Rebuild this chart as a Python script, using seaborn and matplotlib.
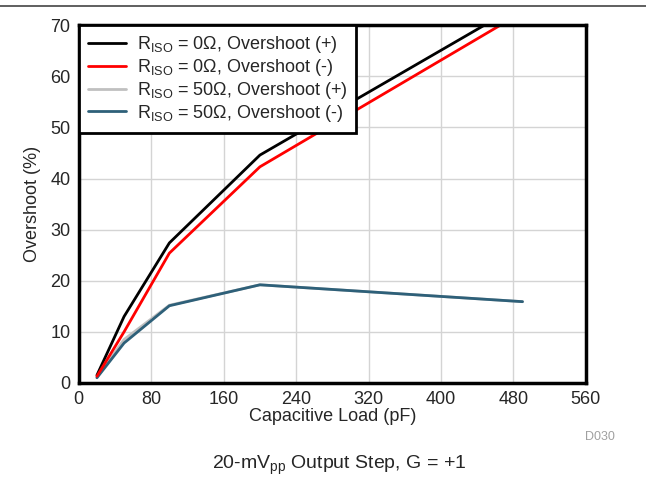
import pandas as pd
import seaborn as sns
import matplotlib.pyplot as plt
from matplotlib.lines import Line2D

# data
cap_0 = [20, 50, 100, 200, 470]
over_pos_0 = [1.5, 13.0, 27.4, 44.6, 72.3]
over_neg_0 = [1.3, 10.0, 25.4, 42.3, 70.5]

cap_50 = [20, 50, 100, 200, 490]
over_pos_50 = [1.1, 8.5, 15.2, 19.2, 15.9]
over_neg_50 = [1.0, 7.8, 15.1, 19.2, 15.9]

labels = ["R$_{\\mathrm{ISO}}$ = 0\u03a9, Overshoot (+)",
          "R$_{\\mathrm{ISO}}$ = 0\u03a9, Overshoot (-)",
          "R$_{\\mathrm{ISO}}$ = 50\u03a9, Overshoot (+)",
          "R$_{\\mathrm{ISO}}$ = 50\u03a9, Overshoot (-)"]
colors = ["#000000", "#ff0000", "#c0c0c0", "#2e6079"]

x_ticks = [0, 80, 160, 240, 320, 400, 480, 560]
y_ticks = [0, 10, 20, 30, 40, 50, 60, 70]

sns.set_style("white")
plt.rcParams["font.family"] = ["Liberation Sans", "DejaVu Sans"]
plt.rcParams["mathtext.fontset"] = "custom"
plt.rcParams["mathtext.rm"] = "Liberation Sans"
plt.rcParams["mathtext.it"] = "Liberation Sans:italic"
plt.rcParams["mathtext.bf"] = "Liberation Sans:bold"

fig = plt.figure(figsize=(6.46, 4.78), dpi=100)
ax = fig.add_axes([0.122, 0.199, 0.785, 0.748])

series = [(cap_50, over_pos_50), (cap_50, over_neg_50),
          (cap_0, over_pos_0), (cap_0, over_neg_0)]
order = [2, 3, 0, 1]
for (xs, ys), i in zip(series, order):
    df = pd.DataFrame({"cap": xs, "over": ys})
    sns.lineplot(data=df, x="cap", y="over", ax=ax, color=colors[i],
                 linewidth=2.0, legend=False)

ax.set_xlim(0, 560)
ax.set_ylim(0, 70)
ax.set_xticks(x_ticks)
ax.set_yticks(y_ticks)
ax.tick_params(labelsize=13, length=0, pad=6)
ax.grid(True, color="#d4d4d4", linewidth=1)
for s in ax.spines.values():
    s.set_linewidth(2.5)
    s.set_color("black")
ax.set_xlabel("Capacitive Load (pF)", fontsize=13, labelpad=0)
ax.set_ylabel("Overshoot (%)", fontsize=13, labelpad=7)

handles = [Line2D([], [], color=c, linewidth=2.0) for c in colors]
leg = ax.legend(handles, labels, loc="upper left", fontsize=13,
                frameon=True, fancybox=False, borderaxespad=0,
                handlelength=2.1, labelspacing=0.1, borderpad=0.5,
                handletextpad=0.6)
leg.get_frame().set_edgecolor("black")
leg.get_frame().set_linewidth(2.0)
leg.get_frame().set_alpha(1)

fig.text(0.928, 0.08, "D030", fontsize=9, color="#a0a0a0", ha="center")
fig.text(0.525, 0.018, "20-mV$_{\\mathrm{pp}}$ Output Step, G = +1",
         fontsize=14, ha="center")
fig.add_artist(Line2D([0, 1], [0.987, 0.987], color="#444444", linewidth=1.2))

fig.savefig("out.png", dpi=100)
